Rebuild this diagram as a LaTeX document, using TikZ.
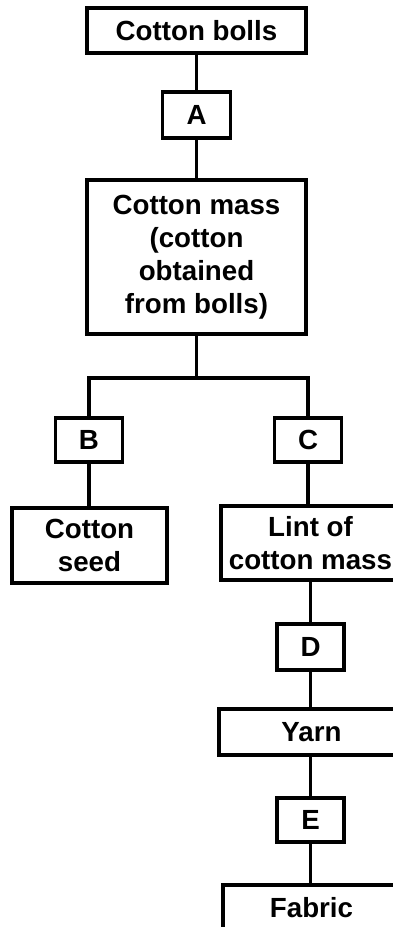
\documentclass[tikz,border=0pt]{standalone}
\usepackage{fontspec}
\setmainfont{Liberation Sans}
\begin{document}
\begin{tikzpicture}[x=1pt,y=-1pt,
  box/.style={draw=black,line width=3.2pt,fill=white,rectangle,inner sep=0pt,align=center,
    font=\fontsize{27.7pt}{33pt}\selectfont\bfseries},
  link/.style={draw=black,line width=3.2pt}]
\useasboundingbox (0,0) rectangle (393,927);
\clip (0,0) rectangle (393,927);
\fill[white] (0,0) rectangle (393,927);
\node[box,minimum width=219pt,minimum height=45pt] (bolls) at (196.5,30.5) {Cotton bolls};
\node[box,minimum width=68pt,minimum height=46pt] (A) at (196.5,115) {A};
\node[box,minimum width=219pt,minimum height=154pt] (mass) at (196.5,257) {Cotton mass\\(cotton\\obtained\\from bolls)};
\node[box,minimum width=67pt,minimum height=44pt] (B) at (89,440) {B};
\node[box,minimum width=67pt,minimum height=44pt] (C) at (308,440) {C};
\node[box,minimum width=155pt,minimum height=75pt] (seed) at (89.5,545.5) {Cotton\\seed};
\node[box,minimum width=179pt,minimum height=74pt] (lint) at (310.5,543) {Lint of\\cotton mass};
\node[box,minimum width=67pt,minimum height=46pt] (D) at (310.5,647) {D};
\node[box,minimum width=185pt,minimum height=46pt] (yarn) at (311.5,732) {Yarn};
\node[box,minimum width=67pt,minimum height=44pt] (E) at (310.5,820) {E};
\node[box,minimum width=177pt,minimum height=45pt] (fabric) at (311.5,907.5) {Fabric};
\coordinate (j) at (196.5,378);
\draw[link] (bolls.south) -- (A.north);
\draw[link] (A.south) -- (mass.north);
\draw[link] (mass.south) -- (j);
\draw[link] (B.north) |- (j) -| (C.north);
\draw[link] (B.south) -- (B.south |- seed.north);
\draw[link] (C.south) -- (C.south |- lint.north);
\draw[link] (lint.south) -- (D.north);
\draw[link] (D.south) -- (D.south |- yarn.north);
\draw[link] (yarn.south -| E.north) -- (E.north);
\draw[link] (E.south) -- (E.south |- fabric.north);
\end{tikzpicture}
\end{document}
